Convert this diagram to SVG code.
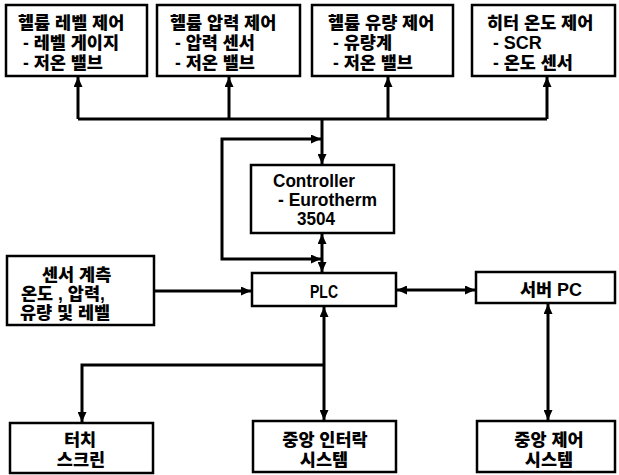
<svg xmlns="http://www.w3.org/2000/svg" width="619" height="475" viewBox="0 0 619 475">
<defs>
<style>
.box{fill:#fff;stroke:#000;stroke-width:2.5}
.ko{font-family:"Liberation Sans","Noto Sans CJK KR",sans-serif;font-weight:900;font-size:17.5px;fill:#000}
.la{font-family:"Liberation Sans","Noto Sans CJK KR",sans-serif;font-weight:bold;font-size:18px;fill:#000}
.c{text-anchor:middle}
.ln{fill:none;stroke:#000;stroke-width:3}
</style>
<marker id="ah" markerUnits="userSpaceOnUse" markerWidth="10" markerHeight="9" refX="10" refY="4.5" orient="auto-start-reverse" viewBox="0 0 10 9">
<path d="M0,0 L10,4.5 L0,9 z" fill="#000"/>
</marker>
</defs>
<rect width="619" height="475" fill="#fff"/>

<g id="connectors">
<path class="ln" d="M78 119 H547"/>
<path class="ln" d="M78 119 V77" marker-end="url(#ah)"/>
<path class="ln" d="M229 119 V77" marker-end="url(#ah)"/>
<path class="ln" d="M388 119 V77" marker-end="url(#ah)"/>
<path class="ln" d="M547 119 V77" marker-end="url(#ah)"/>
<path class="ln" d="M322 119 V164" marker-end="url(#ah)"/>
<path class="ln" d="M321 139 H222 V259 H321" marker-start="url(#ah)" marker-end="url(#ah)"/>
<path class="ln" d="M322 234 V272" marker-start="url(#ah)" marker-end="url(#ah)"/>
<path class="ln" d="M155 291 H251" marker-end="url(#ah)"/>
<path class="ln" d="M397 290 H475" marker-start="url(#ah)" marker-end="url(#ah)"/>
<path class="ln" d="M324 307 V420" marker-start="url(#ah)" marker-end="url(#ah)"/>
<path class="ln" d="M324 365 H82 V422" marker-end="url(#ah)"/>
<path class="ln" d="M548 304 V420" marker-start="url(#ah)" marker-end="url(#ah)"/>
</g>

<g id="level">
<rect class="box" x="6" y="5" width="141" height="71"/>
<text class="ko"><tspan x="18" y="29">헬륨 레벨 제어</tspan><tspan x="23" y="49">- 레벨 게이지</tspan><tspan x="23" y="69">- 저온 밸브</tspan></text>
</g>
<g id="pressure">
<rect class="box" x="157" y="5" width="143" height="71"/>
<text class="ko"><tspan x="170" y="29">헬륨 압력 제어</tspan><tspan x="175" y="49">- 압력 센서</tspan><tspan x="175" y="69">- 저온 밸브</tspan></text>
</g>
<g id="flow">
<rect class="box" x="312" y="5" width="141" height="71"/>
<text class="ko"><tspan x="328" y="29">헬륨 유량 제어</tspan><tspan x="333" y="49">- 유량계</tspan><tspan x="333" y="69">- 저온 밸브</tspan></text>
</g>
<g id="heater">
<rect class="box" x="472" y="5" width="143" height="71"/>
<text class="ko"><tspan x="487" y="29">히터 온도 제어</tspan><tspan x="493" y="49">- </tspan><tspan class="la" font-size="19">SCR</tspan><tspan x="493" y="69">- 온도 센서</tspan></text>
</g>
<g id="controller">
<rect class="box" x="251" y="165" width="143" height="68"/>
<text class="la" font-size="17"><tspan x="273" y="187" textLength="82" lengthAdjust="spacingAndGlyphs">Controller</tspan><tspan x="278" y="206" textLength="99" lengthAdjust="spacingAndGlyphs">- Eurotherm</tspan><tspan x="297" y="225" textLength="38" lengthAdjust="spacingAndGlyphs">3504</tspan></text>
</g>
<g id="sensor">
<rect class="box" x="7" y="256" width="147" height="69"/>
<text class="ko" font-size="17"><tspan x="42" y="281">센서 계측</tspan><tspan x="21" y="300">온도 , 압력,</tspan><tspan x="20" y="319">유량 및 레벨</tspan></text>
</g>
<g id="plc">
<rect class="box" x="252" y="273" width="144" height="33"/>
<text class="la" x="310" y="298" font-size="21" textLength="28" lengthAdjust="spacingAndGlyphs">PLC</text>
</g>
<g id="server">
<rect class="box" x="476" y="272" width="139" height="31"/>
<text class="ko" x="520" y="296" font-size="17">서버 <tspan class="la" font-size="19">PC</tspan></text>
</g>
<g id="touch">
<rect class="box" x="10" y="423" width="143" height="50"/>
<text class="ko c" font-size="17"><tspan x="80" y="446">터치</tspan><tspan x="81" y="466">스크린</tspan></text>
</g>
<g id="interlock">
<rect class="box" x="253" y="421" width="143" height="51"/>
<text class="ko c" font-size="17"><tspan x="325" y="446">중앙 인터락</tspan><tspan x="324" y="466">시스템</tspan></text>
</g>
<g id="central">
<rect class="box" x="477" y="421" width="138" height="51"/>
<text class="ko c" font-size="17"><tspan x="549" y="446">중앙 제어</tspan><tspan x="549" y="466">시스템</tspan></text>
</g>
</svg>
